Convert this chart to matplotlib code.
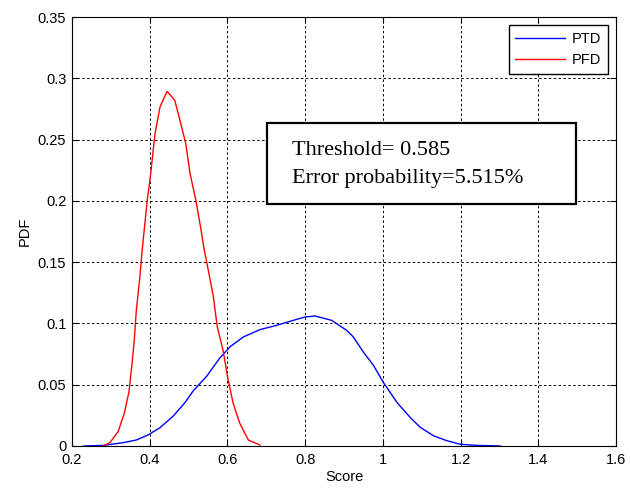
import matplotlib
matplotlib.use("Agg")
import matplotlib.pyplot as plt
from matplotlib.patches import Rectangle

pfd_x = [0.28, 0.298, 0.319, 0.335, 0.347, 0.354, 0.36, 0.366, 0.375, 0.381, 0.394, 0.401,
         0.414, 0.427, 0.445, 0.465, 0.478, 0.493, 0.504, 0.519, 0.531, 0.540, 0.551,
         0.564, 0.574, 0.589, 0.602, 0.615, 0.632, 0.654, 0.684]
pfd_y = [0.0, 0.0027, 0.0117, 0.0267, 0.0443, 0.0647, 0.0838, 0.111, 0.138, 0.16, 0.2007,
         0.217, 0.255, 0.277, 0.2895, 0.282, 0.266, 0.247, 0.2225, 0.2007, 0.179, 0.161,
         0.1436, 0.122, 0.0974, 0.078, 0.054, 0.0348, 0.0185, 0.0049, 0.0008]

ptd_x = [0.231, 0.281, 0.332, 0.366, 0.396, 0.427, 0.461, 0.491, 0.512, 0.547, 0.581, 0.607,
         0.641, 0.684, 0.727, 0.77, 0.8, 0.826, 0.868, 0.907, 0.924, 0.95, 0.976, 1.001,
         1.036, 1.07, 1.096, 1.13, 1.164, 1.199, 1.242, 1.302]
ptd_y = [0.0, 0.0005, 0.0027, 0.0049, 0.009, 0.015, 0.0245, 0.0354, 0.0449, 0.057, 0.072,
         0.081, 0.089, 0.095, 0.0985, 0.1026, 0.1053, 0.1061, 0.1026, 0.0944, 0.089, 0.0766,
         0.0657, 0.052, 0.0357, 0.0234, 0.0153, 0.0084, 0.0044, 0.0014, 0.0005, 0.0]

xticks = [0.2, 0.4, 0.6, 0.8, 1.0, 1.2, 1.4, 1.6]
xticklabels = ["0.2", "0.4", "0.6", "0.8", "1", "1.2", "1.4", "1.6"]
yticks = [0, 0.05, 0.1, 0.15, 0.2, 0.25, 0.3, 0.35]
yticklabels = ["0", "0.05", "0.1", "0.15", "0.2", "0.25", "0.3", "0.35"]

plt.rcParams['font.family'] = ['Liberation Sans', 'DejaVu Sans']

fig = plt.figure(figsize=(6.3, 4.92), dpi=100)
ax = fig.add_axes([0.114, 0.0935, 0.864, 0.8715])

ax.plot(ptd_x, ptd_y, color='#0000ff', lw=1.0, label='PTD')
ax.plot(pfd_x, pfd_y, color='#ff0000', lw=1.0, label='PFD')

ax.set_xlim(0.2, 1.6)
ax.set_ylim(0, 0.35)
ax.set_xticks(xticks)
ax.set_xticklabels(xticklabels)
ax.set_yticks(yticks)
ax.set_yticklabels(yticklabels)
ax.tick_params(direction='in', top=True, right=True, labelsize=10.5, length=4, width=0.8)
ax.tick_params(axis='x', pad=5)
ax.tick_params(axis='y', pad=4)
ax.grid(True, color='black', linestyle=(0, (2.5, 2.5)), linewidth=0.7)
for s in ax.spines.values():
    s.set_linewidth(0.8)

ax.set_xlabel('Score', fontsize=10.5, labelpad=2)
ax.set_ylabel('PDF', fontsize=10.5, labelpad=4)

leg = ax.legend(loc='upper right', fontsize=10.5, fancybox=False, framealpha=1,
                edgecolor='black', borderaxespad=0.55, handlelength=3.4,
                borderpad=0.45, labelspacing=0.5, handletextpad=0.5)
leg.get_frame().set_linewidth(1.0)

ax.add_patch(Rectangle((0.358, 0.564), 0.568, 0.189, transform=ax.transAxes,
                       facecolor='white', edgecolor='black', linewidth=1.6, zorder=5))
ax.text(0.404, 0.69, "Threshold= 0.585", transform=ax.transAxes, fontsize=16,
        family='Liberation Serif', va='center', ha='left', zorder=6)
ax.text(0.404, 0.625, "Error probability=5.515%", transform=ax.transAxes, fontsize=16,
        family='Liberation Serif', va='center', ha='left', zorder=6)

fig.savefig('out.png', dpi=100)
